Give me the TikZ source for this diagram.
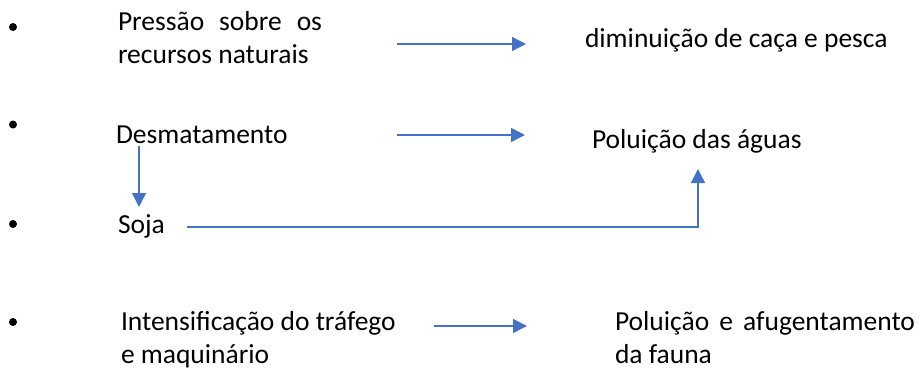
\documentclass[tikz,border=0pt]{standalone}
\usepackage{fontspec}
\setmainfont{Carlito}
\usetikzlibrary{arrows.meta}
\definecolor{arrowblue}{HTML}{4472C4}
\begin{document}
\begin{tikzpicture}[x=1pt,y=-1pt,
  txt/.style={inner sep=0pt,outer sep=0pt,anchor=base west,font=\fontsize{27.5}{33}\selectfont},
  bul/.style={circle,fill=black,inner sep=0pt,minimum size=8pt},
  conn/.style={draw=arrowblue,line width=1.4pt,-{Triangle[length=14pt,width=14pt]}}]
\useasboundingbox (0,0) rectangle (921,368);
% bullets
\node[bul] (b1) at (13,27) {};
\node[bul] (b2) at (13,124.5) {};
\node[bul] (b3) at (13,224) {};
\node[bul] (b4) at (13,322) {};
% texts
\node[txt,text width=204pt,align=justify] (press) at (118,30)
  {\hyphenpenalty=10000 Pressão sobre os recursos naturais};
\node[txt] (desm) at (116,143) {Desmatamento};
\node[txt] (soja) at (118,233) {Soja};
\node[txt,align=left] (intens) at (121,363) {Intensificação do tráfego\\e maquinário};
\node[txt] (dimin) at (585,47) {diminuição de caça e pesca};
\node[txt] (polag) at (592,148) {Poluição das águas};
\node[txt,text width=300pt,align=justify] (polfa) at (615,330)
  {\hyphenpenalty=10000 Poluição e afugentamento da fauna};
% connector endpoints
\coordinate (a1s) at (397,44);   \coordinate (a1e) at (526,44);
\coordinate (a2s) at (397,135);  \coordinate (a2e) at (525,135);
\coordinate (a3s) at (139,146);  \coordinate (a3e) at (139,207);
\coordinate (a4s) at (187,227);  \coordinate (a4c) at (698,227); \coordinate (a4e) at (698,169);
\coordinate (a5s) at (434,326);  \coordinate (a5e) at (527,326);
\draw[conn] (a1s) -- (a1e);
\draw[conn] (a2s) -- (a2e);
\draw[conn] (a3s) -- (a3e);
\draw[conn] (a4s) -- (a4c) -- (a4e);
\draw[conn] (a5s) -- (a5e);
\end{tikzpicture}
\end{document}
